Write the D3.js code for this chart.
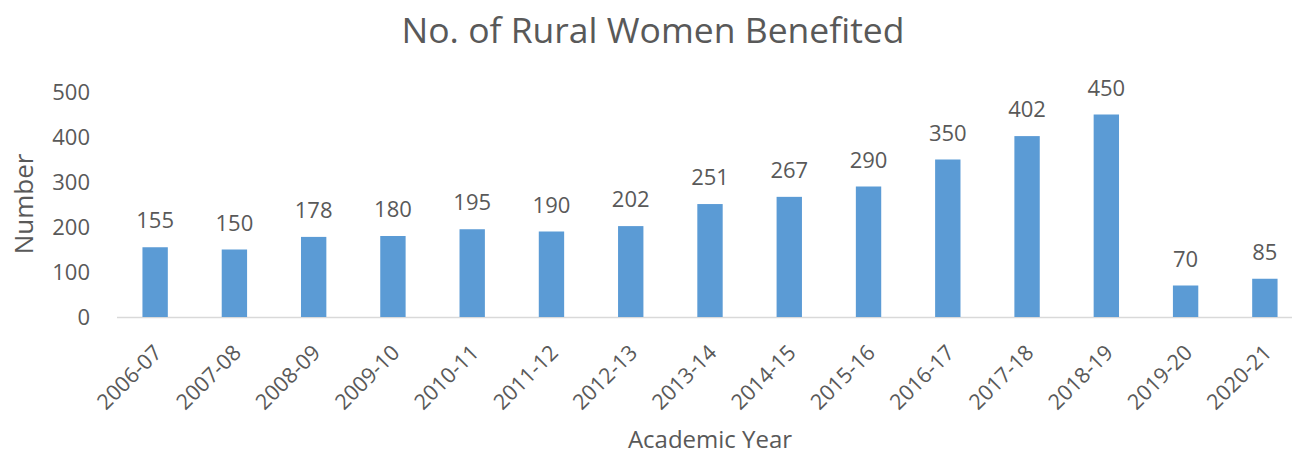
<!DOCTYPE html>
<html><head><meta charset="utf-8">
<script src="https://cdn.jsdelivr.net/npm/d3@7"></script>
<style>body{margin:0;background:#fff}svg{display:block}text{font-family:"Open Sans",sans-serif;fill:#595959}</style>
</head><body><svg id="c" width="1292" height="457"></svg>
<script>
const categories = ["2006-07","2007-08","2008-09","2009-10","2010-11","2011-12","2012-13","2013-14","2014-15","2015-16","2016-17","2017-18","2018-19","2019-20","2020-21"];
const values = [155,150,178,180,195,190,202,251,267,290,350,402,450,70,85];
const yTicks = [0,100,200,300,400,500];
const title = "No. of Rural Women Benefited";
const xTitle = "Academic Year";
const yTitle = "Number";

const svg = d3.select("#c");
const x = d3.scaleBand().domain(categories).range([115.5, 1304.5]).paddingInner(0.68).paddingOuter(0.34);
const y = d3.scaleLinear().domain([0, 500]).range([317, 92]);

svg.append("text").attr("x", 653).attr("y", 43).attr("text-anchor","middle").attr("font-size", 35.5).text(title);

svg.append("g").selectAll("text").data(yTicks).join("text")
  .attr("x", 90).attr("y", d => y(d)).attr("dy","0.36em").attr("text-anchor","end")
  .attr("font-size", 22).text(d => d);

svg.append("line").attr("x1", 117).attr("x2", 1292).attr("y1", y(0)+0.5).attr("y2", y(0)+0.5)
  .attr("stroke","#d9d9d9").attr("stroke-width",1.5);

svg.append("g").selectAll("rect").data(values).join("rect")
  .attr("x",(d,i)=>x(categories[i])).attr("width",x.bandwidth())
  .attr("y",d=>y(d)).attr("height",d=>y(0)-y(d)).attr("fill","#5b9bd5");

svg.append("g").selectAll("text").data(values).join("text")
  .attr("x",(d,i)=>x(categories[i])+x.bandwidth()/2).attr("y",d=>y(d)-19)
  .attr("text-anchor","middle").attr("font-size",22).text(d=>d);

svg.append("g").selectAll("text").data(categories).join("text")
  .attr("transform",d=>`translate(${x(d)+x.bandwidth()/2+8},${y(0)+37}) rotate(-45)`)
  .attr("text-anchor","end").attr("font-size",21.5).text(d=>d);

svg.append("text").attr("x",710).attr("y",448).attr("text-anchor","middle").attr("font-size",24).text(xTitle);
svg.append("text").attr("transform","translate(33,204) rotate(-90)").attr("text-anchor","middle").attr("font-size",26).text(yTitle);
</script></body></html>
